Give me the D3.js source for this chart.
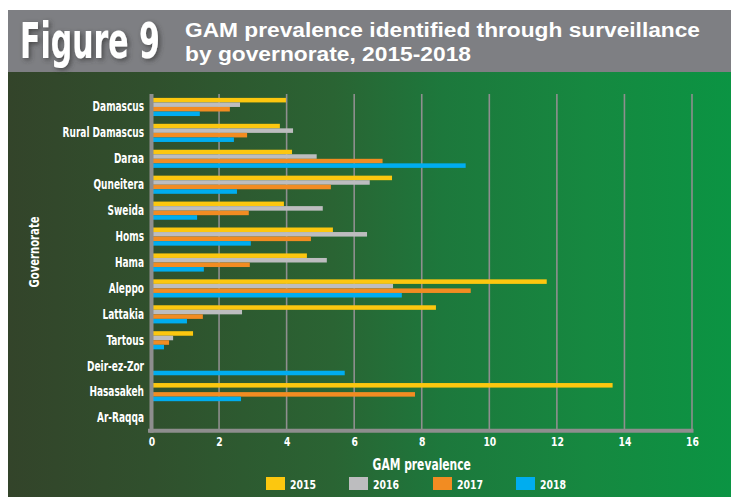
<!DOCTYPE html>
<html>
<head>
<meta charset="utf-8">
<script src="https://cdn.jsdelivr.net/npm/d3@7"></script>
<style>
  html, body { margin: 0; padding: 0; background: #ffffff; }
  svg { display: block; }
  .cond { font-family: "Liberation Sans Narrow", "DejaVu Sans Condensed", "Arial Narrow", sans-serif; font-weight: bold; font-stretch: condensed; }
</style>
</head>
<body>
<svg id="chart" width="731" height="497"></svg>
<script>
// Governorates, top to bottom
const governorates = ["Damascus", "Rural Damascus", "Daraa", "Quneitera", "Sweida", "Homs", "Hama",
  "Aleppo", "Lattakia", "Tartous", "Deir-ez-Zor", "Hasasakeh", "Ar-Raqqa"];
const years = ["2015", "2016", "2017", "2018"];

// GAM prevalence (%) per year; null where no value was reported
const gam2015 = [3.98, 3.80, 4.16, 7.12, 3.92, 5.37, 4.60, 11.70, 8.42, 1.23, null, 13.65, null];
const gam2016 = [2.62, 4.19, 4.89, 6.46, 5.07, 6.38, 5.19, 7.15, 2.68, 0.64, null, null, null];
const gam2017 = [2.32, 2.83, 6.84, 5.31, 2.88, 4.72, 2.91, 9.45, 1.52, 0.52, null, 7.80, null];
const gam2018 = [1.43, 2.44, 9.30, 2.53, 1.35, 2.94, 1.55, 7.41, 1.05, 0.37, 5.72, 2.65, null];

const xTicks = [0, 2, 4, 6, 8, 10, 12, 14, 16];
const yearColors = ["#fcc70f", "#bdbdbf", "#f28c22", "#00adef"];
const headingLines = ["GAM prevalence identified through surveillance", "by governorate, 2015-2018"];

const seriesByYear = [gam2015, gam2016, gam2017, gam2018];
const rows = [];
governorates.forEach((g, i) => {
  years.forEach((y, j) => {
    if (seriesByYear[j][i] != null) rows.push({ gov: g, year: y, value: seriesByYear[j][i] });
  });
});

// Squeeze text horizontally to get a condensed face
function condense(sel, k) {
  sel.each(function () {
    const w = this.getComputedTextLength();
    d3.select(this).attr("textLength", w * k).attr("lengthAdjust", "spacingAndGlyphs");
  });
}

const svg = d3.select("#chart");
const defs = svg.append("defs");

// Panel background gradient
const grad = defs.append("linearGradient").attr("id", "bg").attr("x1", "0").attr("x2", "1").attr("y1", "0").attr("y2", "0");
[[0, "#33442a"], [0.2, "#30502d"], [0.45, "#2a6433"], [0.6, "#1d783c"], [0.8, "#168840"], [1, "#0b9443"]]
  .forEach(([o, c]) => grad.append("stop").attr("offset", o).attr("stop-color", c));

const shadow = defs.append("filter").attr("id", "shadow").attr("x", "-20%").attr("y", "-20%").attr("width", "140%").attr("height", "140%");
shadow.append("feDropShadow").attr("dx", 2).attr("dy", 2).attr("stdDeviation", 2.5)
  .attr("flood-color", "#3a3a3a").attr("flood-opacity", 0.8);

svg.append("rect").attr("x", 8).attr("y", 72).attr("width", 723).attr("height", 425).attr("fill", "url(#bg)");

// Header band
svg.append("rect").attr("x", 8).attr("y", 10).attr("width", 723).attr("height", 62).attr("fill", "#7e7f83");

// "Figure 9" badge: squeezed horizontally with a transform so it stays 140px wide
const badge = svg.append("g").attr("filter", "url(#shadow)");
const badgeText = badge.append("text").attr("class", "cond")
  .attr("font-size", 50).attr("fill", "#ffffff").text("Figure 9");
const badgeScale = 140 / badgeText.node().getComputedTextLength();
badgeText.attr("transform", `translate(20,58) scale(${badgeScale},1)`);

// Two-line heading
const headingWidths = [515, 286];
const headingBaselines = [37, 60.5];
svg.append("g").selectAll("text").data(headingLines).join("text")
  .attr("x", 185).attr("y", (d, i) => headingBaselines[i])
  .attr("font-family", "'Liberation Sans', Arial, sans-serif").attr("font-weight", "bold").attr("font-size", 20)
  .attr("fill", "#ffffff")
  .attr("textLength", (d, i) => headingWidths[i]).attr("lengthAdjust", "spacingAndGlyphs")
  .text(d => d);

// Scales
const x = d3.scaleLinear().domain([0, 16]).range([151.5, 692]);
const y = d3.scaleBand().domain(governorates).range([94, 431]).paddingInner(0.3).paddingOuter(0.15);
const ySub = d3.scaleBand().domain(years).range([0, y.bandwidth()]);
const color = d3.scaleOrdinal().domain(years).range(yearColors);

// Vertical gridlines
svg.append("g").selectAll("line").data(xTicks.filter(t => t > 0)).join("line")
  .attr("x1", d => x(d)).attr("x2", d => x(d)).attr("y1", 94).attr("y2", 431)
  .attr("stroke", "#8f8f8f").attr("stroke-width", 1.6);

// Bars
svg.append("g").selectAll("rect").data(rows).join("rect")
  .attr("x", x(0))
  .attr("y", d => y(d.gov) + ySub(d.year))
  .attr("width", d => x(d.value) - x(0))
  .attr("height", ySub.bandwidth())
  .attr("fill", d => color(d.year));

// Axis lines
svg.append("line").attr("x1", x(0)).attr("x2", x(0)).attr("y1", 94).attr("y2", 432.8)
  .attr("stroke", "#8e8e8e").attr("stroke-width", 4);
svg.append("line").attr("x1", 148).attr("x2", x(16) + 1.5).attr("y1", 430.8).attr("y2", 430.8)
  .attr("stroke", "#8e8e8e").attr("stroke-width", 4);

// X axis tick labels
const xAxis = d3.axisBottom(x).tickValues(xTicks).tickSize(0).tickPadding(0).tickFormat(d3.format("d"));
const gx = svg.append("g").attr("transform", "translate(0,434)").call(xAxis);
gx.select(".domain").remove();
gx.selectAll("text").attr("class", "cond").attr("font-size", 12.5).attr("fill", "#ffffff").attr("dy", "0.95em")
  .call(condense, 0.82);

// Y axis category labels
const yAxis = d3.axisLeft(y).tickSize(0).tickPadding(0);
const gy = svg.append("g").attr("transform", "translate(144,0)").call(yAxis);
gy.select(".domain").remove();
gy.selectAll("text").attr("class", "cond").attr("font-size", 13.5).attr("fill", "#ffffff")
  .call(condense, 0.74);

// Axis titles
svg.append("text").attr("class", "cond").attr("x", (x(0) + x(16)) / 2).attr("y", 470)
  .attr("text-anchor", "middle").attr("font-size", 15.5).attr("fill", "#ffffff").text("GAM prevalence")
  .call(condense, 0.77);
svg.append("text").attr("class", "cond")
  .attr("transform", "translate(39,252) rotate(-90)")
  .attr("text-anchor", "middle").attr("font-size", 14).attr("fill", "#ffffff").text("Governorate")
  .call(condense, 0.8);

// Legend
const legendX = [266, 349, 433, 516];
const legend = svg.append("g").selectAll("g").data(years).join("g")
  .attr("transform", (d, i) => `translate(${legendX[i]},477)`);
legend.append("rect").attr("width", 19).attr("height", 13).attr("fill", d => color(d));
legend.append("text").attr("class", "cond").attr("x", 24).attr("y", 11.5)
  .attr("font-size", 13).attr("fill", "#ffffff").text(d => d)
  .call(condense, 0.8);
</script>
</body>
</html>
